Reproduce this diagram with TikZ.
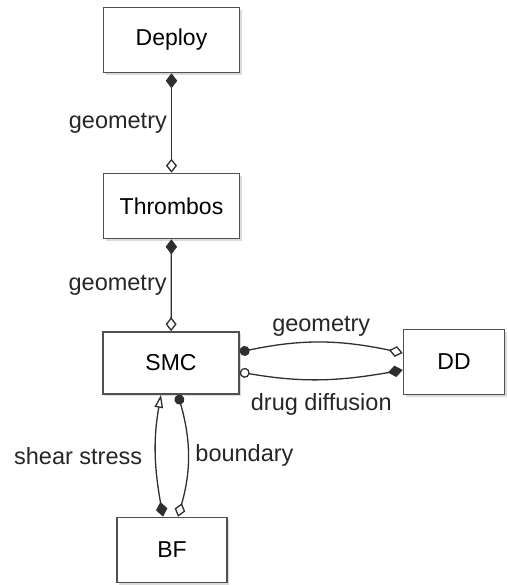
\documentclass[tikz,border=0pt]{standalone}
\usepackage{fontspec}
\setmainfont{Liberation Sans}
\usetikzlibrary{arrows.meta,shadows}
\definecolor{boxline}{HTML}{505050}
\definecolor{linkcol}{HTML}{2E2E2E}
\begin{document}
\begin{tikzpicture}[x=1pt,y=1pt,
  box/.style={draw=boxline, line width=1.6pt, fill=white, inner sep=0pt,
    minimum width=136pt, minimum height=65pt,
    font=\fontsize{23}{26}\selectfont,
    drop shadow={shadow xshift=2pt, shadow yshift=-2.2pt, opacity=0.14, fill=black}},
  link/.style={draw=linkcol, line width=1.3pt},
  lbl/.style={font=\fontsize{23.5}{26}\selectfont, inner sep=2pt, text=black!85},
  fdia/.tip={Diamond[length=15pt, width=11.5pt]},
  odia/.tip={Diamond[open, length=14pt, width=11pt, fill=white]},
  fcirc/.tip={Circle[length=10pt]},
  ocirc/.tip={Circle[open, length=10pt, fill=white]},
  otri/.tip={Triangle[open, length=13pt, width=8.5pt, fill=white]},
]
\useasboundingbox (0,0) rectangle (507,-585);

% components
\node[box] (deploy) at (171.5,-40) {Deploy};
\node[box] (thrombos) at (171.5,-206) {Thrombos};
\node[box, minimum height=62pt] (smc) at (171,-363) {SMC};
\node[box, minimum width=101pt] (dd) at (454,-362) {DD};
\node[box, minimum width=110pt] (bf) at (172,-550) {BF};

% vertical geometry couplings
\draw[link, fdia-odia] (deploy) -- node[lbl, left=2pt] {geometry} (thrombos);
\draw[link, fdia-odia] (thrombos) -- node[lbl, left=2pt] {geometry} (smc);

% SMC <-> DD
\draw[link, fcirc-odia] ([yshift=11pt]smc.east) to[out=12, in=168]
  node[lbl, above=4pt] {geometry} ([yshift=9pt]dd.west);
\draw[link, ocirc-fdia] ([yshift=-9pt]smc.east) to[out=-10, in=-170]
  node[lbl, below=12pt] {drug diffusion} ([yshift=-8pt]dd.west);

% SMC <-> BF
\draw[link, fdia-otri] ([xshift=-9pt]bf.north) to[out=100, in=-100]
  node[lbl, left=11pt] {shear stress} ([xshift=-10pt]smc.south);
\draw[link, fcirc-odia] ([xshift=7pt]smc.south) to[out=-74, in=74]
  node[lbl, right=5pt] {boundary} ([xshift=6pt]bf.north);
\end{tikzpicture}
\end{document}
